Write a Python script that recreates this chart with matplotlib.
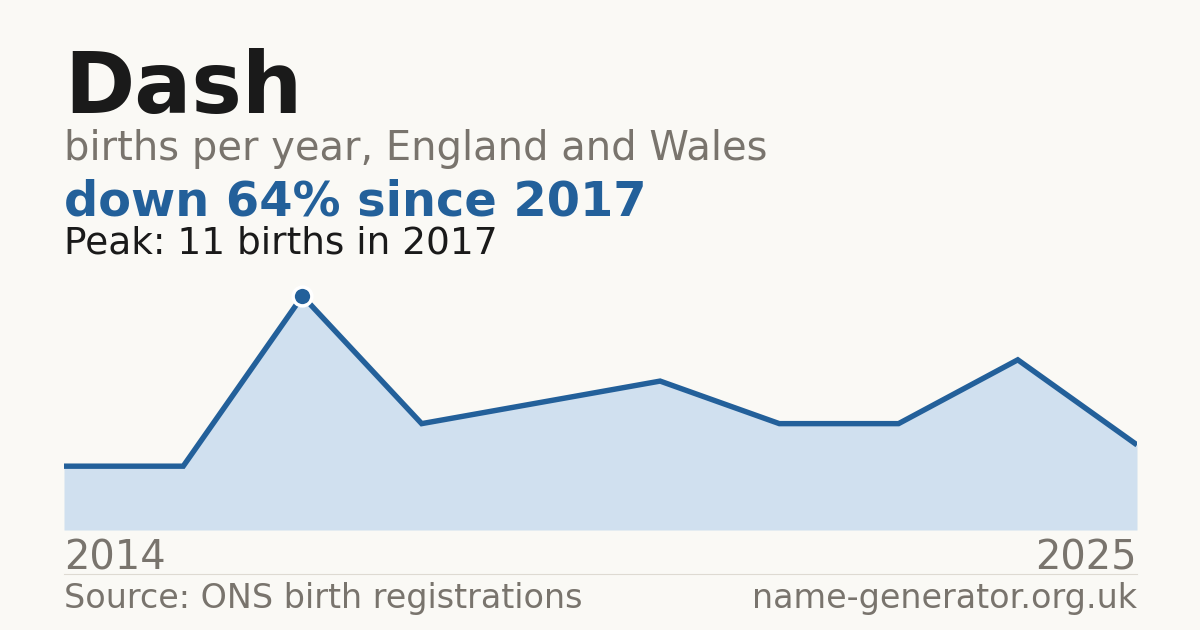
import matplotlib
matplotlib.use("Agg")
import matplotlib.pyplot as plt

years = [2014, 2016, 2017, 2018, 2019, 2020, 2021, 2022, 2024, 2025]
births = [3, 3, 11, 5, 6, 7, 5, 5, 8, 4]
title = "Dash"
subtitle = "births per year, England and Wales"
headline = "down 64% since 2017"
peak_note = "Peak: 11 births in 2017"
source = "Source: ONS birth registrations"
site = "name-generator.org.uk"

BG = "#faf9f5"
LINE = "#23609a"
FILL = "#d0e0ef"
GRAY = "#79746d"
DARK = "#1a1a1a"

plt.rcParams['font.family'] = ['DejaVu Sans']

W, H = 1200, 630
fig = plt.figure(figsize=(W / 100, H / 100), dpi=100, facecolor=BG)

def fy(px):
    return 1 - px / H

def fx(px):
    return px / W

L, R, B, T = 64, 1137, 530, 296
ax = fig.add_axes([fx(L), fy(B), fx(R) - fx(L), (B - T) / H])
ax.set_facecolor(BG)
xs = list(range(len(years)))
peak_i = births.index(max(births))
ax.fill_between(xs, births, 0, color=FILL, lw=0)
ax.plot(xs, births, color=LINE, lw=3.9, solid_capstyle="butt", solid_joinstyle="miter")
ax.plot([xs[peak_i]], [births[peak_i]], 'o', color=LINE, ms=13.5, mec="white", mew=2.5, clip_on=False, zorder=5)
ax.set_xlim(xs[0], xs[-1])
ax.set_ylim(0, max(births))
ax.axis("off")

fig.text(fx(L), fy(113), title, fontsize=61, fontweight="bold", color=DARK, va="baseline", ha="left")
fig.text(fx(L), fy(160), subtitle, fontsize=28.8, color=GRAY, va="baseline", ha="left")
fig.text(fx(L), fy(215), headline, fontsize=34.5, fontweight="bold", color=LINE, va="baseline", ha="left")
fig.text(fx(L), fy(253), peak_note, fontsize=27, color=DARK, va="baseline", ha="left")

fig.text(fx(L), fy(570), str(years[0]), fontsize=28.8, color=GRAY, va="baseline", ha="left")
fig.text(fx(R), fy(570), str(years[-1]), fontsize=28.8, color=GRAY, va="baseline", ha="right")

fig.add_artist(plt.Line2D([fx(L), fx(R)], [fy(574), fy(574)], color="#dedad2", lw=0.8))

fig.text(fx(L), fy(608), source, fontsize=24, color=GRAY, va="baseline", ha="left")
fig.text(fx(R), fy(608), site, fontsize=24, color=GRAY, va="baseline", ha="right")

fig.savefig("out.png", dpi=100, facecolor=BG)
